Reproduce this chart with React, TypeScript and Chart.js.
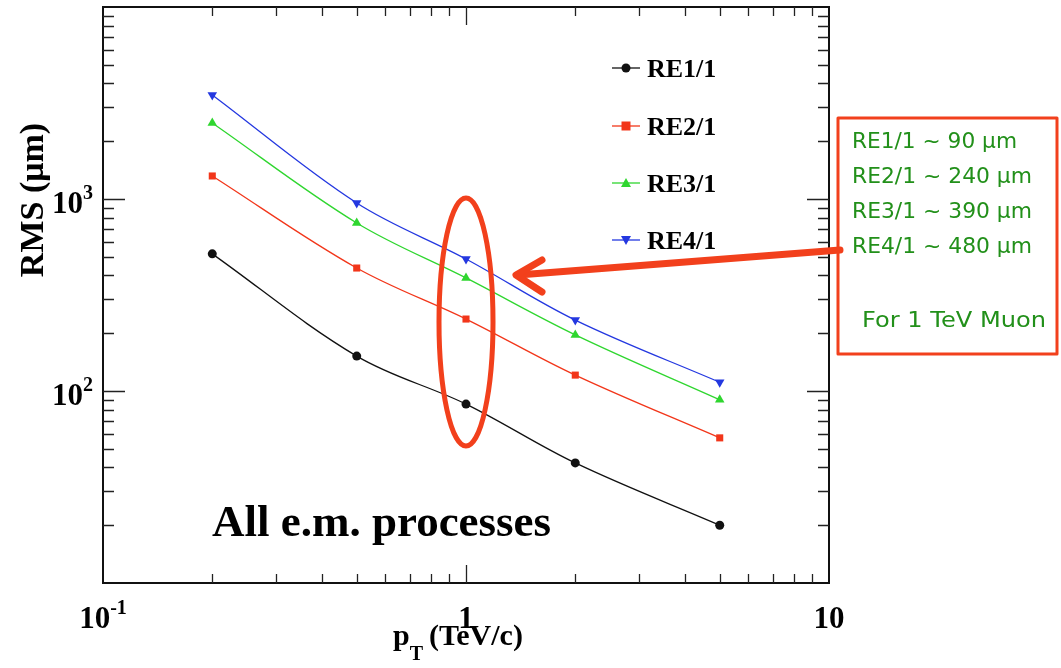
import React, { useEffect, useRef } from "react";
import { Chart, registerables } from "chart.js";

Chart.register(...registerables);

// ---- data ----
const ptValues = [0.2, 0.5, 1, 2, 5];
const re11 = [518, 152, 85.5, 42.2, 20.0];
const re21 = [1318, 437, 237, 121, 57];
const re31 = [2490, 750, 388, 196, 90];
const re41 = [3480, 953, 487, 234, 111];
const seriesNames = ["RE1/1", "RE2/1", "RE3/1", "RE4/1"];
const seriesColors = ["#111111", "#f2361a", "#2fd62f", "#2438e0"];
const seriesMarkers = ["circle", "rect", "triangle", "triangleDown"];
const xTickLabels = [
  { v: 0.1, base: "10", exp: "-1" },
  { v: 1, base: "1", exp: "" },
  { v: 10, base: "10", exp: "" },
];
const yTickLabels = [
  { v: 100, base: "10", exp: "2" },
  { v: 1000, base: "10", exp: "3" },
];
const boxLines = ["RE1/1 ~ 90 µm", "RE2/1 ~ 240 µm", "RE3/1 ~ 390 µm", "RE4/1 ~ 480 µm"];
const boxFooter = "For 1 TeV Muon";
const plotLabel = "All e.m. processes";
const yTitle = "RMS (μm)";

const SERIF = '"Liberation Serif", "Times New Roman", serif';
const ORANGE = "#f2401c";

function drawMarker(ctx: CanvasRenderingContext2D, kind: string, x: number, y: number) {
  ctx.beginPath();
  if (kind === "circle") {
    ctx.arc(x, y, 4.5, 0, Math.PI * 2);
  } else if (kind === "rect") {
    ctx.rect(x - 4.5, y - 4.5, 9, 9);
  } else if (kind === "triangle") {
    ctx.moveTo(x, y - 5);
    ctx.lineTo(x + 5, y + 4);
    ctx.lineTo(x - 5, y + 4);
  } else {
    ctx.moveTo(x, y + 5);
    ctx.lineTo(x + 5, y - 4);
    ctx.lineTo(x - 5, y - 4);
  }
  ctx.closePath();
  ctx.fill();
}

const overlay = {
  id: "overlay",
  afterDraw(chart: any) {
    const ctx = chart.ctx as CanvasRenderingContext2D;
    const xs = chart.scales.x;
    const ys = chart.scales.y;
    const { left, right, top, bottom } = chart.chartArea;
    ctx.save();

    // frame
    ctx.strokeStyle = "#111";
    ctx.lineWidth = 2;
    ctx.strokeRect(left, top, right - left, bottom - top);

    // ticks (inward)
    ctx.lineWidth = 1.3;
    ctx.strokeStyle = "#222";
    const xMajor = [1];
    const xMinor: number[] = [];
    for (const d of [0.1, 1]) for (let k = 2; k <= 9; k++) xMinor.push(d * k);
    const drawX = (v: number, len: number) => {
      const px = Math.round(xs.getPixelForValue(v)) + 0.5;
      ctx.beginPath();
      ctx.moveTo(px, bottom);
      ctx.lineTo(px, bottom - len);
      ctx.moveTo(px, top);
      ctx.lineTo(px, top + len);
      ctx.stroke();
    };
    xMinor.forEach((v) => drawX(v, 9));
    xMajor.forEach((v) => drawX(v, 18));
    const yMajor = [100, 1000];
    const yMinor: number[] = [];
    for (const d of [10, 100, 1000]) for (let k = 2; k <= 9; k++) yMinor.push(d * k);
    const drawY = (v: number, len: number) => {
      const py = Math.round(ys.getPixelForValue(v)) + 0.5;
      ctx.beginPath();
      ctx.moveTo(left, py);
      ctx.lineTo(left + len, py);
      ctx.moveTo(right, py);
      ctx.lineTo(right - len, py);
      ctx.stroke();
    };
    yMinor.forEach((v) => drawY(v, 11));
    yMajor.forEach((v) => drawY(v, 22));

    // tick labels
    ctx.fillStyle = "#000";
    ctx.textBaseline = "alphabetic";
    const baseFont = `bold 31px ${SERIF}`;
    const expFont = `bold 20px ${SERIF}`;
    const measure = (t: string, f: string) => {
      ctx.font = f;
      return ctx.measureText(t).width;
    };
    xTickLabels.forEach((t) => {
      const wb = measure(t.base, baseFont);
      const we = t.exp ? measure(t.exp, expFont) : 0;
      const cx = xs.getPixelForValue(t.v);
      const x0 = cx - (wb + we) / 2;
      const by = bottom + 45;
      ctx.textAlign = "left";
      ctx.font = baseFont;
      ctx.fillText(t.base, x0, by);
      if (t.exp) {
        ctx.font = expFont;
        ctx.fillText(t.exp, x0 + wb, by - 14);
      }
    });
    yTickLabels.forEach((t) => {
      const wb = measure(t.base, baseFont);
      const we = measure(t.exp, expFont);
      const py = ys.getPixelForValue(t.v);
      const xr = 93;
      ctx.textAlign = "left";
      ctx.font = baseFont;
      ctx.fillText(t.base, xr - we - wb, py + 14);
      ctx.font = expFont;
      ctx.fillText(t.exp, xr - we, py);
    });

    // axis titles
    ctx.save();
    ctx.translate(43, 200);
    ctx.rotate(-Math.PI / 2);
    ctx.font = `bold 34px ${SERIF}`;
    ctx.textAlign = "center";
    ctx.fillText(yTitle, 0, 0);
    ctx.restore();

    ctx.font = `bold 30px ${SERIF}`;
    ctx.textAlign = "left";
    let tx = 393;
    ctx.fillText("p", tx, 645);
    tx += measure("p", `bold 30px ${SERIF}`);
    ctx.font = `bold 20px ${SERIF}`;
    ctx.fillText("T", tx, 660);
    tx += measure("T", `bold 20px ${SERIF}`) + 6;
    ctx.font = `bold 30px ${SERIF}`;
    ctx.fillText("(TeV/c)", tx, 645);

    // plot label
    ctx.font = `bold 45px ${SERIF}`;
    ctx.fillText(plotLabel, 212, 536);

    // legend
    const legY = [68, 126, 183, 240];
    seriesNames.forEach((name, i) => {
      const y = legY[i];
      ctx.strokeStyle = seriesColors[i];
      ctx.lineWidth = 1.3;
      ctx.beginPath();
      ctx.moveTo(612, y);
      ctx.lineTo(640, y);
      ctx.stroke();
      ctx.fillStyle = seriesColors[i];
      drawMarker(ctx, seriesMarkers[i], 626, y);
      ctx.fillStyle = "#000";
      ctx.font = `bold 26px ${SERIF}`;
      ctx.textAlign = "left";
      ctx.fillText(name, 647, y + 9);
    });

    // ellipse
    ctx.strokeStyle = ORANGE;
    ctx.lineWidth = 5;
    ctx.beginPath();
    ctx.ellipse(xs.getPixelForValue(1), 322, 27, 124, 0, 0, Math.PI * 2);
    ctx.stroke();

    // arrow
    ctx.lineWidth = 7;
    ctx.lineCap = "round";
    ctx.lineJoin = "round";
    ctx.beginPath();
    ctx.moveTo(840, 250);
    ctx.lineTo(518, 275);
    ctx.stroke();
    ctx.beginPath();
    ctx.moveTo(542, 260);
    ctx.lineTo(516, 275);
    ctx.lineTo(542, 292);
    ctx.stroke();
    ctx.lineCap = "butt";

    // box
    ctx.lineWidth = 3;
    ctx.strokeRect(838, 118, 219, 236);
    ctx.fillStyle = "#22901a";
    ctx.font = `21px "DejaVu Sans", sans-serif`;
    ctx.textAlign = "left";
    ctx.textBaseline = "middle";
    const ly = [143, 178, 213, 248];
    const targetW = [165, 180, 180, 180];
    boxLines.forEach((l, i) => {
      const w = ctx.measureText(l).width;
      ctx.save();
      ctx.translate(852, ly[i]);
      ctx.scale(targetW[i] / w, 1);
      ctx.fillText(l, 0, 0);
      ctx.restore();
    });
    const wf = ctx.measureText(boxFooter).width;
    ctx.save();
    ctx.translate(862, 322);
    ctx.scale(184 / wf, 1);
    ctx.fillText(boxFooter, 0, 0);
    ctx.restore();

    ctx.restore();
  },
};

export default function App() {
  const ref = useRef<HTMLCanvasElement | null>(null);
  useEffect(() => {
    if (!ref.current) return;
    const allSeries = [re11, re21, re31, re41];
    const datasets = allSeries.map((vals, i) => ({
      label: seriesNames[i],
      data: ptValues.map((x, j) => ({ x, y: vals[j] })),
      showLine: true,
      borderColor: seriesColors[i],
      backgroundColor: seriesColors[i],
      borderWidth: 1.3,
      tension: 0.35,
      pointStyle: seriesMarkers[i] === "triangleDown" ? "triangle" : seriesMarkers[i],
      rotation: seriesMarkers[i] === "triangleDown" ? 180 : 0,
      pointRadius: seriesMarkers[i] === "rect" ? 5 : seriesMarkers[i] === "circle" ? 4.5 : 5.5,
      pointBorderWidth: 0,
    }));
    const chart = new Chart(ref.current, {
      type: "scatter",
      data: { datasets },
      options: {
        responsive: false,
        animation: false,
        layout: { padding: { left: 103, top: 7, right: 232, bottom: 85 } },
        plugins: { legend: { display: false }, tooltip: { enabled: false } },
        scales: {
          x: { type: "logarithmic", min: 0.1, max: 10, display: false },
          y: { type: "logarithmic", min: 10, max: 10000, display: false },
        },
      },
      plugins: [overlay],
    } as any);
    return () => chart.destroy();
  }, []);
  return (
    <div style={{ position: "absolute", left: 0, top: 0, width: 1061, height: 668, background: "#fff" }}>
      <canvas ref={ref} width={1061} height={668} />
    </div>
  );
}
